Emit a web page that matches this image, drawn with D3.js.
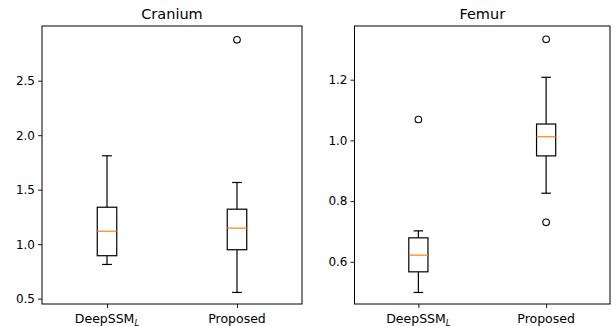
<!DOCTYPE html>
<html>
<head>
<meta charset="utf-8">
<script src="https://cdn.jsdelivr.net/npm/d3@7"></script>
<style>
  body { margin: 0; background: #fff; }
  text { font-family: "DejaVu Sans", sans-serif; fill: #000; }
</style>
</head>
<body>
<svg id="chart" width="615" height="326"></svg>
<script>
// categories and panel titles
const categories = ["DeepSSM", "Proposed"];
const panelTitles = ["Cranium", "Femur"];

// box stats per panel: [whiskerLow, q1, median, q3, whiskerHigh]
const craniumStats = [
  [0.814, 0.894, 1.119, 1.339, 1.811],
  [0.557, 0.949, 1.147, 1.321, 1.566]
];
const craniumOutliers = [[], [2.875]];

const femurStats = [
  [0.499, 0.567, 0.622, 0.679, 0.702],
  [0.826, 0.949, 1.012, 1.054, 1.208]
];
const femurOutliers = [[1.069], [1.333, 0.730]];

// tick values
const craniumTicks = [0.5, 1.0, 1.5, 2.0, 2.5];
const femurTicks = [0.6, 0.8, 1.0, 1.2];

const yDomains = [[0.451, 3.002], [0.461, 1.377]];

const panels = [
  { title: panelTitles[0], stats: craniumStats, outliers: craniumOutliers, ticks: craniumTicks, domain: yDomains[0], left: 42, right: 302 },
  { title: panelTitles[1], stats: femurStats, outliers: femurOutliers, ticks: femurTicks, domain: yDomains[1], left: 354.5, right: 610 }
];

const plotTop = 26, plotBottom = 304;
const svg = d3.select("#chart");

panels.forEach(p => {
  const x = d3.scaleLinear().domain([0.5, 2.5]).range([p.left, p.right]);
  const y = d3.scaleLinear().domain(p.domain).range([plotBottom, plotTop]);
  const g = svg.append("g");

  // title
  g.append("text")
    .attr("x", (p.left + p.right) / 2)
    .attr("y", 19)
    .attr("text-anchor", "middle")
    .style("font-size", "14.5px")
    .text(p.title);

  // y axis
  const yAxis = d3.axisLeft(y).tickValues(p.ticks).tickFormat(d3.format(".1f")).tickSize(4).tickPadding(3);
  const ya = g.append("g").attr("transform", `translate(${p.left},0)`).call(yAxis);
  ya.select(".domain").remove();
  ya.selectAll("text").style("font-size", "12px").attr("font-family", null);
  ya.selectAll("line").attr("stroke", "#000").attr("stroke-width", 0.9);

  // x axis ticks
  const xa = g.append("g").attr("transform", `translate(0,${plotBottom})`)
    .call(d3.axisBottom(x).tickValues([1, 2]).tickSize(4).tickFormat(""));
  xa.select(".domain").remove();
  xa.selectAll("line").attr("stroke", "#000").attr("stroke-width", 0.9);

  // x labels (with subscript for DeepSSM_L)
  categories.forEach((c, i) => {
    const t = g.append("text")
      .attr("x", x(i + 1))
      .attr("y", 323)
      .attr("text-anchor", "middle")
      .style("font-size", "12.5px");
    t.append("tspan").text(c);
    if (i === 0) {
      t.append("tspan").attr("dy", 2.5).style("font-size", "8.5px").style("font-style", "italic").text("L");
    }
  });

  // boxes
  const bw = (x(1.075) - x(0.925));
  p.stats.forEach((s, i) => {
    const cx = x(i + 1);
    const [wl, q1, med, q3, wh] = s;
    const line = (x1, y1, x2, y2, col) => g.append("line")
      .attr("x1", x1).attr("y1", y1).attr("x2", x2).attr("y2", y2)
      .attr("stroke", col || "#000").attr("stroke-width", 1.2);
    line(cx, y(q1), cx, y(wl));
    line(cx, y(q3), cx, y(wh));
    line(cx - bw / 4, y(wl), cx + bw / 4, y(wl));
    line(cx - bw / 4, y(wh), cx + bw / 4, y(wh));
    g.append("rect")
      .attr("x", cx - bw / 2).attr("y", y(q3))
      .attr("width", bw).attr("height", y(q1) - y(q3))
      .attr("fill", "none").attr("stroke", "#000").attr("stroke-width", 1.2);
    line(cx - bw / 2, y(med), cx + bw / 2, y(med), "#ff7f0e");

    g.selectAll(null).data(p.outliers[i]).join("circle")
      .attr("cx", cx).attr("cy", d => y(d)).attr("r", 3.3)
      .attr("fill", "none").attr("stroke", "#000").attr("stroke-width", 1.1);
  });

  // frame
  g.append("rect")
    .attr("x", p.left).attr("y", plotTop)
    .attr("width", p.right - p.left).attr("height", plotBottom - plotTop)
    .attr("fill", "none").attr("stroke", "#000").attr("stroke-width", 1);
});
</script>
</body>
</html>
